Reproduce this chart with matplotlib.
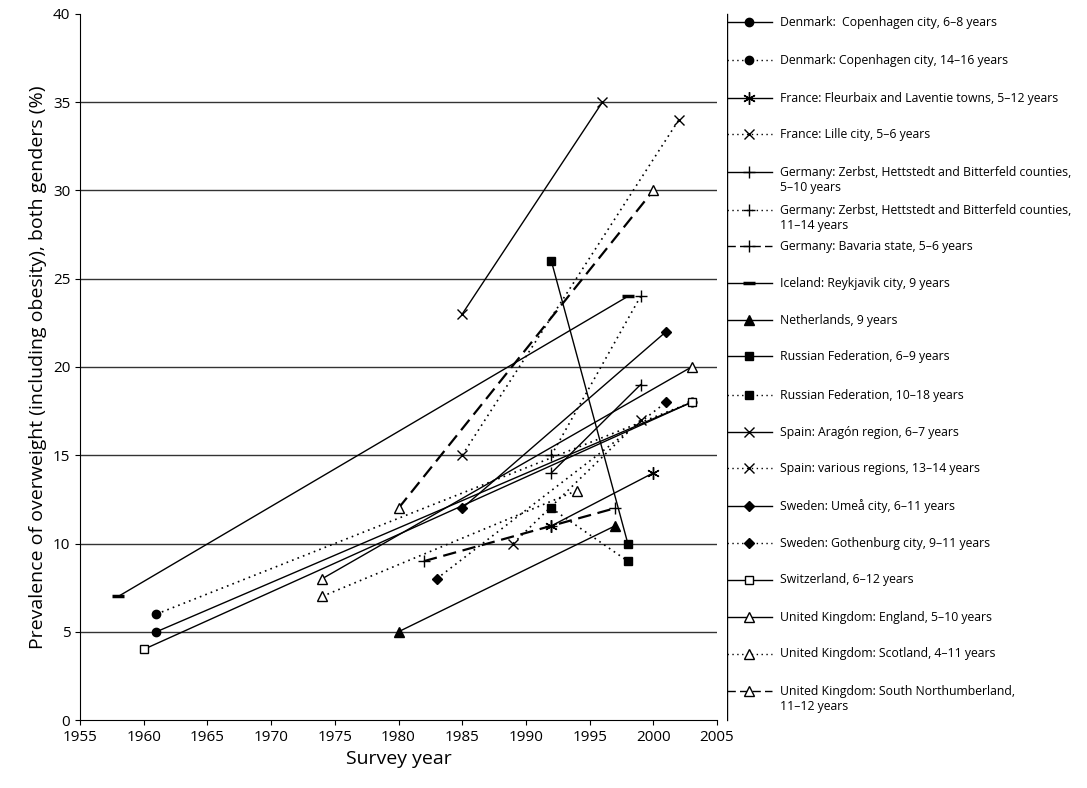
import matplotlib.pyplot as plt
from matplotlib.lines import Line2D

plt.rcParams['font.family'] = ['Open Sans', 'DejaVu Sans']

labels = [
    'Denmark:  Copenhagen city, 6–8 years',
    'Denmark: Copenhagen city, 14–16 years',
    'France: Fleurbaix and Laventie towns, 5–12 years',
    'France: Lille city, 5–6 years',
    'Germany: Zerbst, Hettstedt and Bitterfeld counties,\n5–10 years',
    'Germany: Zerbst, Hettstedt and Bitterfeld counties,\n11–14 years',
    'Germany: Bavaria state, 5–6 years',
    'Iceland: Reykjavik city, 9 years',
    'Netherlands, 9 years',
    'Russian Federation, 6–9 years',
    'Russian Federation, 10–18 years',
    'Spain: Aragón region, 6–7 years',
    'Spain: various regions, 13–14 years',
    'Sweden: Umeå city, 6–11 years',
    'Sweden: Gothenburg city, 9–11 years',
    'Switzerland, 6–12 years',
    'United Kingdom: England, 5–10 years',
    'United Kingdom: Scotland, 4–11 years',
    'United Kingdom: South Northumberland,\n11–12 years',
]
years = [
    [1961, 2003], [1961, 2003], [1992, 2000], [1989, 1999], [1992, 1999],
    [1992, 1999], [1982, 1992, 1997], [1958, 1998], [1980, 1997], [1992, 1998],
    [1992, 1998], [1985, 1996], [1985, 2002], [1985, 2001], [1983, 2001],
    [1960, 2003], [1974, 2003], [1974, 1994], [1980, 2000],
]
values = [
    [5, 18], [6, 18], [11, 14], [10, 17], [14, 19],
    [15, 24], [9, 11, 12], [7, 24], [5, 11], [26, 10],
    [12, 9], [23, 35], [15, 34], [12, 22], [8, 18],
    [4, 18], [8, 20], [7, 13], [12, 30],
]
styles = ['-', ':', '-', ':', '-', ':', '--', '-', '-', '-', ':', '-', ':', '-', ':', '-', '-', ':', '--']
markers = ['o', 'o', (6, 2, 0), 'x', '+', '+', '+', '_', '^', 's', 's', 'x', 'x', 'D', 'D', 's', '^', '^', '^']
fills = ['k', 'k', 'k', 'k', 'k', 'k', 'k', 'k', 'k', 'k', 'k', 'k', 'k', 'k', 'k', 'w', 'w', 'w', 'w']
sizes = [6, 6, 9, 7, 9, 9, 9, 9, 7, 6, 6, 7, 7, 5, 5, 6, 7, 7, 7]
mews = [1, 1, 1, 1, 1, 1, 1, 2.5, 1, 1, 1, 1, 1, 1, 1, 1, 1, 1, 1]


def linestyle(s):
    if s == '--':
        return (0, (6, 3))
    if s == ':':
        return (0, (1, 2.5))
    return '-'


fig = plt.figure(figsize=(10.87, 7.88), dpi=100)
ax = fig.add_axes([80 / 1087, 1 - 720 / 788, 637 / 1087, 706 / 788])
for y in range(5, 40, 5):
    ax.axhline(y, color='#333333', lw=1, zorder=0)
for i in range(len(labels)):
    lw = 1.6 if styles[i] == '--' else (1.2 if styles[i] == ':' else 1)
    ax.plot(years[i], values[i], linestyle=linestyle(styles[i]), color='k', lw=lw,
            marker=markers[i], ms=sizes[i], mfc=fills[i], mec='k', mew=mews[i])
ax.set_xlim(1955, 2005)
ax.set_ylim(0, 40)
ax.set_xticks(range(1955, 2006, 5))
ax.set_yticks(range(0, 41, 5))
ax.tick_params(labelsize=11, direction='out')
for s in ['top', 'right']:
    ax.spines[s].set_visible(False)
ax.set_xlabel('Survey year', fontsize=14)
ax.set_ylabel('Prevalence of overweight (including obesity), both genders (%)', fontsize=14)

lax = fig.add_axes([727 / 1087, 0, 360 / 1087, 1])
lax.set_xlim(727, 1087)
lax.set_ylim(788, 0)
lax.axis('off')
lax.plot([727, 727], [14, 720], color='k', lw=1)
ypos = [22, 60, 98, 134, 172, 210, 246, 283, 320, 356, 395, 432, 468, 506, 543, 580, 617, 654, 691]
for i in range(len(labels)):
    y = ypos[i]
    lax.add_line(Line2D([727, 772], [y, y], linestyle=linestyle(styles[i]), color='k', lw=1))
    lax.plot([749], [y], marker=markers[i], ms=sizes[i], mfc=fills[i], mec='k', mew=mews[i], ls='none')
    lax.text(780, y if '\n' not in labels[i] else y + 8, labels[i], fontsize=8.8, va='center', ha='left',
             linespacing=1.25)

fig.savefig('out.png', dpi=100)
